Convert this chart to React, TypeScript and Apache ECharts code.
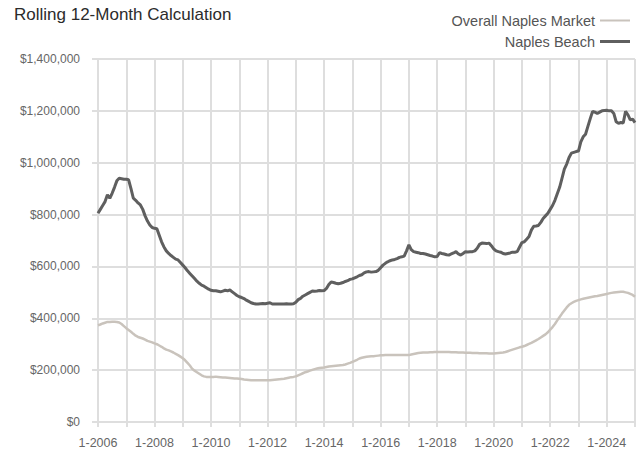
import React, { useEffect, useRef } from "react";
import * as echarts from "echarts";

const years = [2006, 2007, 2008, 2009, 2010, 2011, 2012, 2013, 2014, 2015, 2016, 2017, 2018, 2019, 2020, 2021, 2022, 2023, 2024, 2025];

// Monthly values in $ thousands, Jan 2006 .. Jan 2025
const naplesBeach = [
  805, 820, 835, 850, 876, 863, 882, 905, 930, 940, 938, 936,
  936, 934, 900, 863, 855, 845, 837, 820, 795, 775, 760, 750,
  747, 745, 720, 695, 675, 660, 650, 642, 635, 628, 625, 615,
  605, 595, 583, 573, 563, 553, 543, 535, 528, 524, 518, 512,
  508, 506, 506, 504, 502, 505, 508, 506, 509, 502, 495, 488,
  483, 480, 476, 470, 465, 460, 457, 455, 455, 456, 457, 456,
  458, 460, 455, 455, 455, 455, 455, 455, 456, 455, 455, 456,
  462, 472, 477, 485, 490, 495, 500, 505, 504, 505, 507, 506,
  507, 515, 530, 540, 538, 535, 533, 535, 538, 542, 545, 550,
  552, 556, 560, 565, 568, 575, 579, 580, 578, 579, 580, 585,
  595, 605, 612, 618, 622, 625, 627, 630, 635, 637, 640, 660,
  683, 665, 657, 655, 653, 650, 650, 648, 645, 642, 640, 637,
  638, 653, 650, 648, 645, 644, 648, 652, 657, 648, 644, 650,
  657, 656, 657, 657, 660, 670, 685, 690, 689, 688, 690, 680,
  668, 660, 657, 655, 650, 648, 650, 652, 655, 655, 657, 675,
  692, 695, 705, 715, 740, 755, 756, 758, 770, 785, 795, 805,
  820, 835, 855, 880, 905, 940, 975, 995, 1020, 1037, 1040, 1043,
  1045, 1080, 1100, 1110, 1140, 1170, 1198, 1195, 1190, 1195, 1200, 1201,
  1202, 1200, 1200, 1190, 1158, 1152, 1155, 1153, 1198, 1185, 1165, 1168,
  1155,
];

const overallMarket = [
  373, 376, 380, 383, 386, 386, 387, 387, 386, 384, 378, 370,
  362, 355, 348, 340, 333, 328, 325, 322, 318, 313, 310, 307,
  303, 300, 295, 290, 284, 279, 276, 272, 268, 263, 258, 252,
  246, 238, 228, 218, 205, 198, 192, 186, 180, 176, 174, 174,
  174, 174, 175, 174, 173, 172, 172, 171, 170, 169, 168, 168,
  167, 166, 164, 163, 162, 161, 161, 161, 161, 161, 161, 161,
  161, 161, 162, 163, 164, 165, 166, 167, 169, 171, 173, 174,
  176, 180, 184, 188, 192, 195, 198, 201, 204, 206, 208, 209,
  210, 212, 214, 215, 216, 217, 218, 219, 220, 222, 225, 228,
  232, 236, 240, 245, 248, 250, 252, 253, 254, 254, 255, 256,
  257, 257, 258, 258, 258, 258, 258, 258, 258, 258, 258, 258,
  258, 260, 262, 264, 266, 267, 268, 268, 268, 269, 269, 270,
  270, 270, 270, 270, 270, 270, 269, 269, 269, 268, 268, 268,
  267, 267, 267, 266, 266, 266, 265, 265, 265, 265, 264, 264,
  264, 265, 266, 267, 268, 270, 273, 276, 279, 282, 285, 288,
  290, 293, 297, 301, 305, 310, 315, 320, 326, 332, 338, 346,
  356, 366, 378, 392, 405, 418, 430, 442, 452, 458, 463, 467,
  470, 473, 475, 477, 479, 481, 483, 485, 486, 488, 490, 492,
  494, 496, 498, 499, 500, 501, 502, 502, 500, 498, 494, 490,
  483,
];

const months: string[] = [];
years.forEach((y) => {
  for (let m = 1; m <= 12; m++) {
    if (months.length < naplesBeach.length) months.push(`${m}-${y}`);
  }
});

const FONT = "'Liberation Sans', Arial, sans-serif";

export default function App() {
  const ref = useRef<HTMLDivElement>(null);
  useEffect(() => {
    if (!ref.current) return;
    const chart = echarts.init(ref.current, undefined, { renderer: "svg" });
    chart.setOption({
      animation: false,
      backgroundColor: "#ffffff",
      title: {
        text: "Rolling 12-Month Calculation",
        left: 9,
        top: 1,
        textStyle: { fontFamily: FONT, fontSize: 17, fontWeight: "normal", color: "#2b2b2b" },
      },
      legend: [
        {
          data: ["Overall Naples Market"],
          right: 6,
          top: 8,
          align: "right",
          icon: "rect",
          itemWidth: 30,
          itemHeight: 2,
          textStyle: { fontFamily: FONT, fontSize: 14.5, color: "#555" },
        },
        {
          data: ["Naples Beach"],
          right: 6,
          top: 29,
          align: "right",
          icon: "rect",
          itemWidth: 30,
          itemHeight: 3,
          textStyle: { fontFamily: FONT, fontSize: 14.5, color: "#555" },
        },
      ],
      grid: { left: 98, right: 6, top: 59, bottom: 28, containLabel: false },
      xAxis: {
        type: "category",
        data: months,
        boundaryGap: false,
        axisLine: { show: true, lineStyle: { color: "#dedede", width: 2 } },
        axisTick: { show: true, interval: 11, length: 5, lineStyle: { color: "#dedede", width: 2 } },
        splitLine: { show: true, interval: 11, lineStyle: { color: "#dedede", width: 2 } },
        axisLabel: {
          interval: (i: number) => i % 24 === 0,
          margin: 14,
          fontFamily: FONT,
          fontSize: 12.5,
          color: "#666",
          hideOverlap: false,
        },
      },
      yAxis: {
        type: "value",
        min: 0,
        max: 1400000,
        interval: 200000,
        axisLine: { show: false },
        axisTick: { show: true, length: 6, lineStyle: { color: "#dedede", width: 2 } },
        splitLine: { show: true, lineStyle: { color: "#dedede", width: 2 } },
        axisLabel: {
          margin: 18,
          fontFamily: FONT,
          fontSize: 12,
          color: "#666",
          formatter: (v: number) => "$" + v.toLocaleString("en-US"),
        },
      },
      series: [
        {
          name: "Overall Naples Market",
          type: "line",
          data: overallMarket.map((v) => v * 1000),
          symbol: "none",
          lineStyle: { color: "#c9c3bc", width: 2.5 },
          itemStyle: { color: "#c9c3bc" },
        },
        {
          name: "Naples Beach",
          type: "line",
          data: naplesBeach.map((v) => v * 1000),
          symbol: "none",
          lineStyle: { color: "#5f5f5f", width: 3 },
          itemStyle: { color: "#5f5f5f" },
        },
      ],
    });
    return () => chart.dispose();
  }, []);
  return (
    <div
      ref={ref}
      style={{ position: "fixed", left: 0, top: 0, width: 641, height: 450 }}
    />
  );
}
